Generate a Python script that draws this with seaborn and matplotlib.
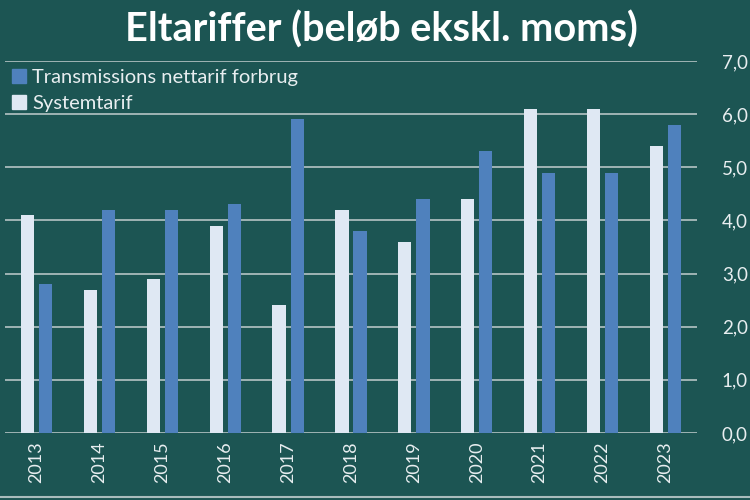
import matplotlib
matplotlib.use("Agg")
import matplotlib.pyplot as plt
import seaborn as sns
import pandas as pd
from matplotlib.lines import Line2D
from matplotlib.ticker import FuncFormatter

years = ["2013", "2014", "2015", "2016", "2017", "2018", "2019", "2020", "2021", "2022", "2023"]
systemtarif = [4.1, 2.7, 2.9, 3.9, 2.4, 4.2, 3.6, 4.4, 6.1, 6.1, 5.4]
transmission = [2.8, 4.2, 4.2, 4.3, 5.9, 3.8, 4.4, 5.3, 4.9, 4.9, 5.8]
series_names = ["Systemtarif", "Transmissions nettarif forbrug"]

BG = "#1c5553"
LIGHT = "#dfe8f3"
BLUE = "#4f81bd"
TXT = "#e8eef0"
GRID = "#a9bcbc"

df = pd.DataFrame({
    "year": years * 2,
    "value": systemtarif + transmission,
    "series": [series_names[0]] * len(years) + [series_names[1]] * len(years),
})

sns.set_theme(style="white")
plt.rcParams["font.family"] = ["Lato", "DejaVu Sans"]

fig = plt.figure(figsize=(7.5, 5), dpi=100, facecolor=BG)
ax = fig.add_axes([0.007, 0.134, 0.922, 0.744])
ax.set_facecolor(BG)

sns.barplot(data=df, x="year", y="value", hue="series", order=years,
            hue_order=series_names, palette=[LIGHT, BLUE], width=0.578,
            gap=0.264, saturation=1, ax=ax, legend=False, linewidth=0)

ax.set_ylim(0, 7)
ax.set_xlim(-0.5, len(years) - 0.5)
ax.set_yticks(range(0, 8))
ax.yaxis.set_major_formatter(FuncFormatter(lambda v, p: f"{v:.1f}".replace(".", ",")))
ax.yaxis.tick_right()
ax.grid(axis="y", color=GRID, linewidth=1.3)
ax.set_axisbelow(True)
for s in ax.spines.values():
    s.set_visible(False)
ax.tick_params(axis="y", colors=TXT, labelsize=13.5, length=0, pad=18)
ax.tick_params(axis="x", colors=TXT, labelsize=13, length=0, pad=6, labelrotation=90)
ax.set_xlabel("")
ax.set_ylabel("")

handles = [
    Line2D([], [], marker="s", linestyle="none", markersize=10, color=BLUE),
    Line2D([], [], marker="s", linestyle="none", markersize=10, color=LIGHT),
]
leg = ax.legend(handles, [series_names[1], series_names[0]], loc="upper left",
                bbox_to_anchor=(-0.006, 1.01), frameon=False, fontsize=14.5,
                handlelength=0.6, handletextpad=0.35, labelspacing=0.4,
                borderaxespad=0.2)
for t in leg.get_texts():
    t.set_color(TXT)

fig.text(0.508, 0.94, "Eltariffer (beløb ekskl. moms)", ha="center", va="center",
         color="white", fontsize=28.5, fontweight="bold")
fig.add_artist(Line2D([0, 1], [0.006, 0.006], transform=fig.transFigure,
                      color=GRID, linewidth=1.5))

fig.savefig("out.png", dpi=100, facecolor=BG)
